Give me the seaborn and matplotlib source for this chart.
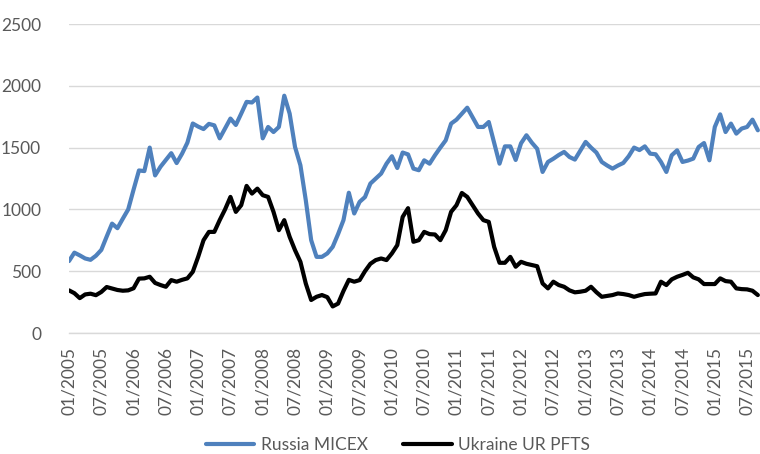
import numpy as np
import pandas as pd
import matplotlib
matplotlib.use("Agg")
import matplotlib.pyplot as plt
import seaborn as sns

# monthly index levels, 01/2005 .. 09/2015
months = pd.date_range("2005-01-01", periods=129, freq="MS")

russia_micex = [
    582, 650, 628, 603, 592, 625, 672, 780, 885, 848, 925, 1000,
    1160, 1315, 1310, 1500, 1275, 1345, 1400, 1455, 1375, 1450, 1540, 1695,
    1670, 1650, 1692, 1680, 1575, 1655, 1735, 1683, 1775, 1870, 1865, 1905,
    1575, 1667, 1626, 1667, 1920, 1775, 1505, 1357, 1074, 751, 616, 616,
    644, 697, 800, 913, 1135, 967, 1061, 1100, 1209, 1250, 1290, 1370,
    1430, 1335, 1460, 1445, 1330, 1317, 1397, 1370, 1438, 1500, 1559, 1694,
    1726, 1775, 1823, 1745, 1667, 1667, 1707, 1540, 1370, 1510, 1510, 1400,
    1535, 1600, 1540, 1490, 1303, 1384, 1410, 1440, 1465, 1424, 1403, 1475,
    1546, 1500, 1460, 1384, 1355, 1330, 1355, 1376, 1430, 1500, 1480, 1510,
    1451, 1446, 1384, 1303, 1438, 1478, 1384, 1395, 1411, 1505, 1537, 1397,
    1667, 1769, 1626, 1694, 1613, 1654, 1667, 1726, 1640,
]

ukraine_pfts = [
    345, 322, 282, 312, 318, 306, 332, 372, 360, 348, 342, 345,
    362, 440, 442, 455, 405, 388, 374, 428, 415, 430, 442, 495,
    616, 751, 818, 818, 913, 1000, 1101, 980, 1034, 1190, 1128, 1168,
    1115, 1101, 980, 832, 913, 778, 670, 576, 400, 267, 293, 307,
    290, 215, 238, 340, 430, 415, 428, 500, 560, 590, 603, 590,
    644, 711, 939, 1010, 738, 751, 818, 800, 797, 751, 832, 980,
    1034, 1133, 1101, 1034, 967, 913, 899, 697, 568, 568, 616, 536,
    576, 560, 550, 540, 401, 361, 415, 388, 374, 345, 329, 334,
    342, 374, 330, 293, 300, 307, 320, 315, 307, 293, 305, 315,
    318, 320, 415, 388, 434, 455, 470, 487, 450, 434, 396, 396,
    396, 442, 420, 415, 361, 355, 353, 342, 307,
]

series_names = ["Russia MICEX", "Ukraine UR PFTS"]
colors = ["#4F81BD", "#000000"]

df = pd.DataFrame({
    "month": np.arange(len(months)),
    series_names[0]: russia_micex,
    series_names[1]: ukraine_pfts,
})
long_df = df.melt(id_vars="month", var_name="index", value_name="value")

sns.set_theme(style="white")
plt.rcParams["font.family"] = ["Lato", "DejaVu Sans"]

fig = plt.figure(figsize=(7.6, 4.54), dpi=100)
ax = fig.add_axes([69 / 760, 1 - 333 / 454, 1 - 69 / 760, (333 - 24) / 454])

sns.lineplot(data=long_df, x="month", y="value", hue="index",
             palette=colors, linewidth=3, legend=False, ax=ax)
for ln in ax.lines:
    ln.set_solid_joinstyle("round")
    ln.set_solid_capstyle("round")

ax.set_xlim(0, 128.4)
ax.set_ylim(0, 2500)
ax.set_yticks(range(0, 2501, 500))
tick_pos = list(range(0, len(months), 6))
ax.set_xticks(tick_pos)
ax.set_xticklabels(months[tick_pos].strftime("%m/%Y"), rotation=90)
ax.set_xlabel("")
ax.set_ylabel("")

ax.grid(axis="y", color="#D9D9D9", linewidth=1)
ax.set_axisbelow(True)
for side in ["left", "right", "top"]:
    ax.spines[side].set_visible(False)
ax.spines["bottom"].set_color("#D9D9D9")
ax.spines["bottom"].set_linewidth(1)

ax.tick_params(axis="y", length=0, pad=20, labelsize=12.5, labelcolor="#595959")
ax.tick_params(axis="x", length=4, width=1, color="#D9D9D9", direction="out",
               pad=6, labelsize=12.5, labelcolor="#595959")

fig.legend(ax.lines[:2], series_names, loc="center",
           bbox_to_anchor=(398 / 760, 1 - 445 / 454), ncol=2, frameon=False,
           handlelength=2.8, columnspacing=2.0, handletextpad=0.4,
           fontsize=12.5, labelcolor="#595959")

fig.savefig("out.png", dpi=100)
